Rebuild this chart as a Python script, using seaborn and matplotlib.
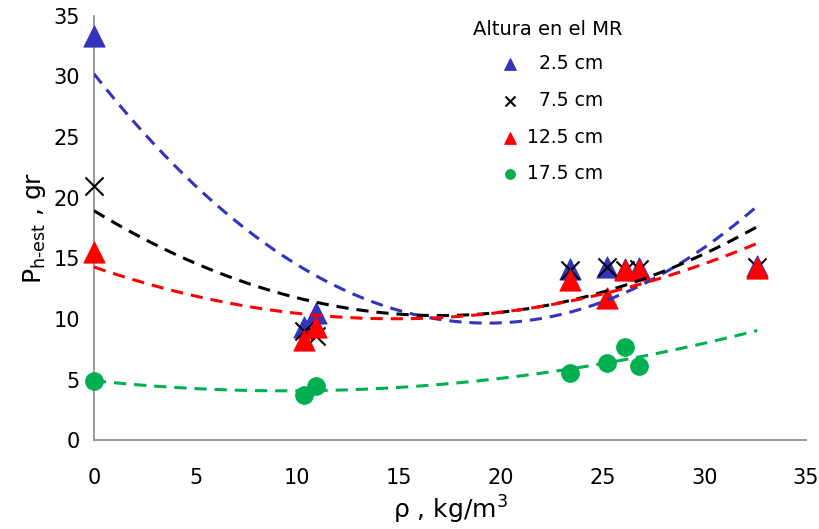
import matplotlib
matplotlib.use("Agg")
import matplotlib.pyplot as plt
import numpy as np
import pandas as pd
import seaborn as sns

# density values (kg/m3) where measurements were taken
rho = [0, 10.3, 10.9, 23.4, 25.2, 26.1, 26.8, 32.6]

p_25 = [33.3, 9.3, 10.5, 14.1, 14.3, 14.1, 14.2, 14.4]
p_75 = [21.0, 9.0, 8.6, 14.0, 14.3, 14.0, 14.1, 14.3]
p_125 = [15.5, 8.3, 9.3, 13.2, 11.7, 14.0, 14.0, 14.2]
rho_175 = [0, 10.3, 10.9, 23.4, 25.2, 26.1, 26.8]
p_175 = [4.9, 3.7, 4.5, 5.5, 6.4, 7.7, 6.1]

labels = ["  2.5 cm", "  7.5 cm", "12.5 cm", "17.5 cm"]
colors = ["#3333BB", "black", "#FF0000", "#00B050"]
markers = ["^", "x", "^", "o"]

series = [(rho, p_25), (rho, p_75), (rho, p_125), (rho_175, p_175)]

sns.set_style("white")
plt.rcParams['font.family'] = ['DejaVu Sans']
plt.rcParams['text.color'] = 'black'
plt.rcParams['axes.labelcolor'] = 'black'
plt.rcParams['xtick.color'] = 'black'
plt.rcParams['ytick.color'] = 'black'

fig, ax = plt.subplots(figsize=(8.2, 5.29), dpi=100)
fig.subplots_adjust(left=0.1146, right=0.983, bottom=0.168, top=0.970)

xs = np.linspace(0, 32.6, 200)
for (x, y), lab, c, m in zip(series, labels, colors, markers):
    df = pd.DataFrame({'x': x, 'y': y})
    if m == "x":
        sns.scatterplot(data=df, x='x', y='y', marker='x', s=170, color=c,
                        linewidth=1.5, ax=ax, label=lab, zorder=3, clip_on=False)
    else:
        sz = 230 if m == "^" else 160
        sns.scatterplot(data=df, x='x', y='y', marker=m, s=sz, color=c,
                        edgecolor=c, linewidth=0.8, ax=ax, label=lab, zorder=3,
                        clip_on=False)
    # second order polynomial trend (as in the spreadsheet)
    coef = np.polyfit(x, y, 2)
    trend = pd.DataFrame({'x': xs, 'y': np.polyval(coef, xs)})
    sns.lineplot(data=trend, x='x', y='y', color=c, lw=2.2,
                 linestyle=(0, (4, 2.6)), ax=ax, zorder=4)

ax.set_xlim(0, 35)
ax.set_ylim(0, 35)
ax.set_xticks(range(0, 36, 5))
ax.set_yticks(range(0, 36, 5))
for s in ['top', 'right']:
    ax.spines[s].set_visible(False)
for s in ['left', 'bottom']:
    ax.spines[s].set_color('#888888')
    ax.spines[s].set_linewidth(1.2)
ax.tick_params(axis='both', direction='out', length=6, width=1.2, color='#888888',
               labelsize=15, pad=4)
ax.tick_params(axis='x', pad=14)
ax.set_xlabel(r"$\mathregular{\rho}$ , kg/m$\mathregular{^3}$", fontsize=18, labelpad=4)
ax.set_ylabel(r"P$\mathregular{_{h\text{-}est}}$ , gr", fontsize=18, labelpad=4)

leg = ax.legend(frameon=False, loc='upper left',
                bbox_to_anchor=(0.545, 0.95), fontsize=13.5,
                markerscale=0.55, handletextpad=0.3, labelspacing=0.95,
                handlelength=1.2)
leg._legend_box.align = "left"
ax.text(0.532, 0.968, "Altura en el MR", transform=ax.transAxes, fontsize=14,
        ha='left', va='center')

fig.savefig("out.png", dpi=100)
